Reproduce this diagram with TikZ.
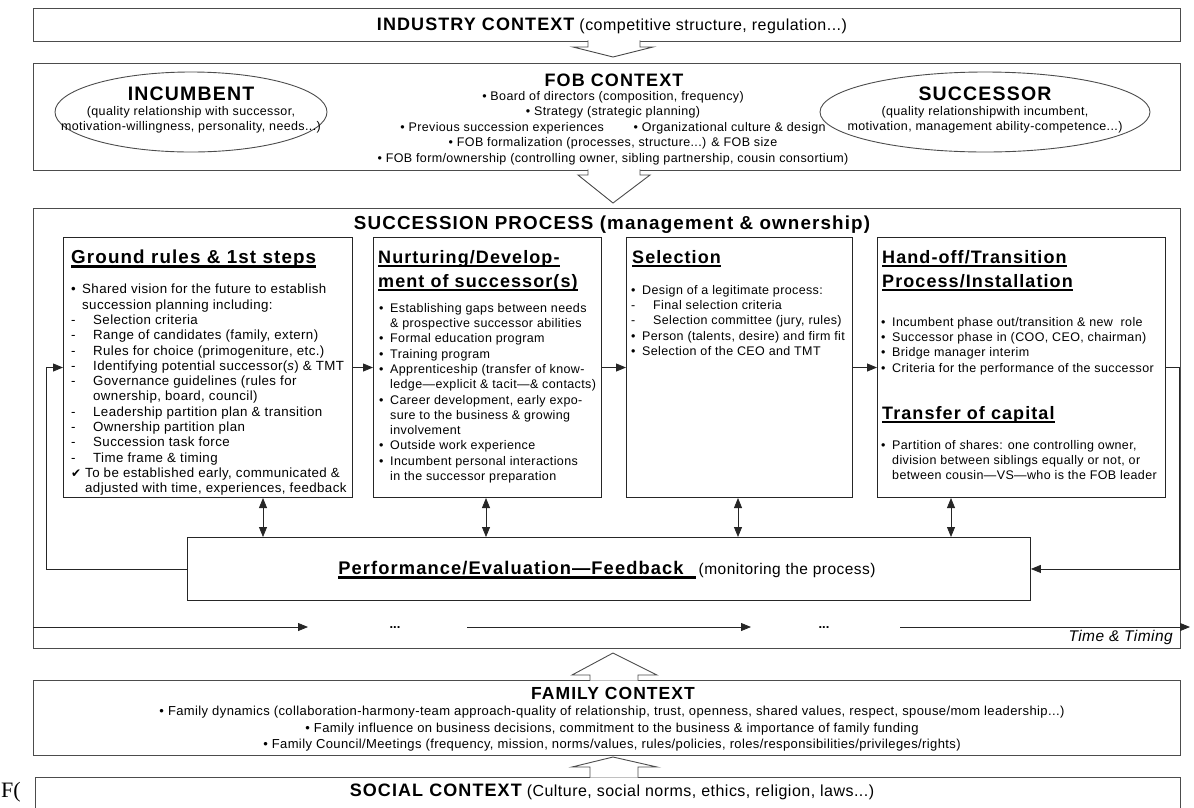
\documentclass[tikz,border=0pt]{standalone}
\usepackage{fontspec}
\setmainfont{Liberation Sans}
\newfontfamily\trackfont[LetterSpace=3]{Liberation Sans}
\newfontfamily\headfont[LetterSpace=6]{Liberation Sans}
\newfontfamily\captionfont{Liberation Serif}
\newfontfamily\tickfont{DejaVu Sans}
\usetikzlibrary{arrows.meta,positioning,shapes.geometric}

\newcommand{\itembul}{\makebox[11pt][l]{•}}
\newcommand{\itemdash}{\makebox[22pt][l]{-}}
\newcommand{\itemgap}{\hspace*{11pt}}
\newcommand{\itemtick}{\makebox[14pt][l]{\tickfont\fontsize{12}{11}\selectfont ✔}}
\newcommand{\ulhead}[1]{\setbox0\hbox{#1}\rlap{\rule[-4pt]{\wd0}{2.4pt}}\box0}

\begin{document}
\begin{tikzpicture}[x=1pt,y=-1pt,
  frame/.style={draw=black!70,line width=0.9pt,inner sep=0pt,anchor=north west},
  stage/.style={draw=black!85,line width=1pt,inner sep=0pt,anchor=north west},
  title/.style={font=\headfont\bfseries\fontsize{18}{21}\selectfont,inner sep=0pt},
  head/.style={font=\headfont\bfseries\fontsize{18}{24}\selectfont,align=left,anchor=north west,inner sep=0pt},
  body/.style={font=\trackfont\fontsize{12.5}{15.3}\selectfont,align=left,anchor=north west,inner sep=0pt},
  note/.style={font=\trackfont\fontsize{12.5}{15.5}\selectfont,align=center,inner sep=0pt},
  link/.style={-{Triangle[length=10pt,width=8pt]},line width=0.8pt,draw=black!85},
  both/.style={{Triangle[length=10pt,width=8pt]}-{Triangle[length=10pt,width=8pt]},line width=0.8pt,draw=black!85},
  block/.style={draw=black!70,fill=white,line width=0.9pt}]
\useasboundingbox (0,0) rectangle (1194,807);

% outer frames
\node[frame,minimum width=1147pt,minimum height=33pt] (industry) at (33,8) {};
\node[frame,minimum width=1147pt,minimum height=107pt] (fob) at (33,63) {};
\node[frame,minimum width=1147pt,minimum height=440pt] (process) at (33,208) {};
\node[frame,minimum width=1147pt,minimum height=75pt] (family) at (33,680) {};
\node[font=\captionfont\fontsize{22}{22}\selectfont,anchor=west,inner sep=0pt] (figlabel) at (1,792) {F(};
\node[frame,fill=white,minimum width=1145pt,minimum height=45pt] (social) at (35,777) {};

% block arrows
\filldraw[block] (588,40.4) -- (588,47) -- (573,47) -- (613,57) -- (653,47) -- (640,47) -- (640,40.4);
\filldraw[block] (588,169.4) -- (588,175) -- (578,175) -- (613,203) -- (650,175) -- (640,175) -- (640,169.4);
\filldraw[block] (590,680.6) -- (590,675) -- (572,675) -- (613,653) -- (657,675) -- (638,675) -- (638,680.6);
\filldraw[block] (590,777.6) -- (590,767) -- (572,767) -- (613,757) -- (657,767) -- (638,767) -- (638,777.6);

% context texts
\node[inner sep=0pt] (industrytext) at (612,26) {{\headfont\bfseries\fontsize{18}{18}\selectfont INDUSTRY CONTEXT}\hspace{5pt}{\trackfont\fontsize{16}{16}\selectfont (competitive structure, regulation...)}};
\node[title] (fobtitle) at (614,80) {FOB CONTEXT};
\node[note,anchor=north] (fobitems) at (613,91) {• Board of directors (composition, frequency)\\
  • Strategy (strategic planning)\\
  • Previous succession experiences \hspace{22pt} • Organizational culture \& design\\
  • FOB formalization (processes, structure...) \& FOB size\\
  • FOB form/ownership (controlling owner, sibling partnership, cousin consortium)};

\node[ellipse,draw=black!70,line width=0.9pt,minimum width=272pt,minimum height=80pt] (incumbent) at (191,112) {};
\node[note,font=\trackfont\fontsize{12.5}{15}\selectfont] (incumbenttext) at (191,110) {{\headfont\bfseries\fontsize{19.5}{21}\selectfont INCUMBENT}\\
  (quality relationship with successor,\\
  motivation-willingness, personality, needs...)};
\node[ellipse,draw=black!70,line width=0.9pt,minimum width=330pt,minimum height=80pt] (successor) at (985,112) {};
\node[note,font=\trackfont\fontsize{12.5}{15}\selectfont] (successortext) at (985,110) {{\headfont\bfseries\fontsize{19.5}{21}\selectfont SUCCESSOR}\\
  (quality relationshipwith incumbent,\\
  motivation, management ability-competence...)};

\node[title,font=\headfont\bfseries\fontsize{18.8}{21}\selectfont] (processtitle) at (612,225) {SUCCESSION PROCESS (management \& ownership)};

% stages
\node[stage,minimum width=289pt,minimum height=260pt] (ground) at (63,237) {};
\node[stage,minimum width=228pt,minimum height=260pt] (nurture) at (373,237) {};
\node[stage,minimum width=226pt,minimum height=260pt] (selection) at (626,237) {};
\node[stage,minimum width=288pt,minimum height=260pt] (handoff) at (877,237) {};

\node[head,font=\headfont\bfseries\fontsize{18.8}{24}\selectfont] (groundhead) at ([shift={(8pt,-13pt)}]ground.north west) {\ulhead{Ground rules \& 1st steps}};
\node[body,font=\trackfont\fontsize{13.3}{15.3}\selectfont] (groundtext) at ([shift={(8pt,-47pt)}]ground.north west) {\itembul Shared vision for the future to establish\\
  \itemgap succession planning including:\\
  \itemdash Selection criteria\\
  \itemdash Range of candidates (family, extern)\\
  \itemdash Rules for choice (primogeniture, etc.)\\
  \itemdash Identifying potential successor(\textit{s}) \& TMT\\
  \itemdash Governance guidelines (rules for\\
  \hspace*{22pt}ownership, board, council)\\
  \itemdash Leadership partition plan \& transition\\
  \itemdash Ownership partition plan\\
  \itemdash Succession task force\\
  \itemdash Time frame \& timing\\
  \itemtick To be established early, communicated \&\\
  \hspace*{14pt}adjusted with time, experiences, feedback};

\node[head] (nurturehead) at ([shift={(5pt,-13pt)}]nurture.north west) {\ulhead{Nurturing/Develop-}\\\ulhead{ment of successor(s)}};
\node[body] (nurturetext) at ([shift={(6pt,-66pt)}]nurture.north west) {\itembul Establishing gaps between needs\\
  \itemgap \& prospective successor abilities\\
  \itembul Formal education program\\
  \itembul Training program\\
  \itembul Apprenticeship (transfer of know-\\
  \itemgap ledge—explicit \& tacit—\& contacts)\\
  \itembul Career development, early expo-\\
  \itemgap sure to the business \& growing\\
  \itemgap involvement\\
  \itembul Outside work experience\\
  \itembul Incumbent personal interactions\\
  \itemgap in the successor preparation};

\node[head] (selectionhead) at ([shift={(6pt,-13pt)}]selection.north west) {\ulhead{Selection}};
\node[body] (selectiontext) at ([shift={(5pt,-48pt)}]selection.north west) {\itembul Design of a legitimate process:\\
  \itemdash Final selection criteria\\
  \itemdash Selection committee (jury, rules)\\
  \itembul Person (talents, desire) and firm fit\\
  \itembul Selection of the CEO and TMT};

\node[head] (handoffhead) at ([shift={(5pt,-13pt)}]handoff.north west) {\ulhead{Hand-off/Transition}\\\ulhead{Process/Installation}};
\node[body] (handofftext) at ([shift={(4pt,-80pt)}]handoff.north west) {\itembul Incumbent phase out/transition \& new \ role\\
  \itembul Successor phase in (COO, CEO, chairman)\\
  \itembul Bridge manager interim\\
  \itembul Criteria for the performance of the successor};
\node[head] (capitalhead) at ([shift={(5pt,-169pt)}]handoff.north west) {\ulhead{Transfer of capital}};
\node[body] (capitaltext) at ([shift={(4pt,-203pt)}]handoff.north west) {\itembul Partition of \textit{s}hares: one controlling owner,\\
  \itemgap division between siblings equally or not, or\\
  \itemgap between cousin—VS—who is the FOB leader};

% feedback
\node[frame,draw=black!85,minimum width=843pt,minimum height=63pt] (perf) at (187,537) {};
\node[inner sep=0pt] (perftext) at (607,570) {{\headfont\bfseries\fontsize{18.3}{18}\selectfont\ulhead{Performance/Evaluation—Feedback\ \ }}\ {\trackfont\fontsize{15.5}{15}\selectfont (monitoring the process)}};

\draw[link] (ground.east) -- (nurture.west);
\draw[link] (nurture.east) -- (selection.west);
\draw[link] (selection.east) -- (handoff.west);
\draw[link] (perf.west) -| ([xshift=-17pt]ground.west) -- (ground.west);
\draw[link] (handoff.east) -- ++(13,0) |- (perf.east);
\foreach \stagename/\xpos in {ground/263,nurture/486,selection/738,handoff/951}
  \draw[both] (\stagename.south -| \xpos,0) -- (perf.north -| \xpos,0);

% time line
\coordinate (t0) at (33,627);
\coordinate (t1) at (308,627);
\coordinate (t2) at (467,627);
\coordinate (t3) at (751,627);
\coordinate (t4) at (900,627);
\coordinate (t5) at (1190,627);
\draw[link] (t0) -- (t1);
\draw[link] (t2) -- (t3);
\draw[link] (t4) -- (t5);
\node[font=\bfseries\fontsize{13}{13}\selectfont] (dotsone) at (395,628) {...};
\node[font=\bfseries\fontsize{13}{13}\selectfont] (dotstwo) at (824,628) {...};
\node[font=\trackfont\itshape\fontsize{15.5}{15}\selectfont,anchor=east,inner sep=0pt] (timing) at (1173,637) {Time \& Timing};

% family and social
\node[title,font=\headfont\bfseries\fontsize{17.5}{21}\selectfont] (familytitle) at (613,693) {FAMILY CONTEXT};
\node[note,font=\trackfont\fontsize{13}{16.5}\selectfont,anchor=north] (familyitems) at (612,706) {• Family dynamics (collaboration-harmony-team approach-quality of relationship, trust, openness, shared values, respect, spouse/mom leadership...)\\
  • Family influence on business decisions, commitment to the business \& importance of family funding\\
  • Family Council/Meetings (frequency, mission, norms/values, rules/policies, roles/responsibilities/privileges/rights)};
\node[inner sep=0pt] (socialtext) at (612,792) {{\headfont\bfseries\fontsize{18}{18}\selectfont SOCIAL CONTEXT}\hspace{5pt}{\trackfont\fontsize{16}{16}\selectfont (Culture, social norms, ethics, religion, laws...)}};
\end{tikzpicture}
\end{document}
